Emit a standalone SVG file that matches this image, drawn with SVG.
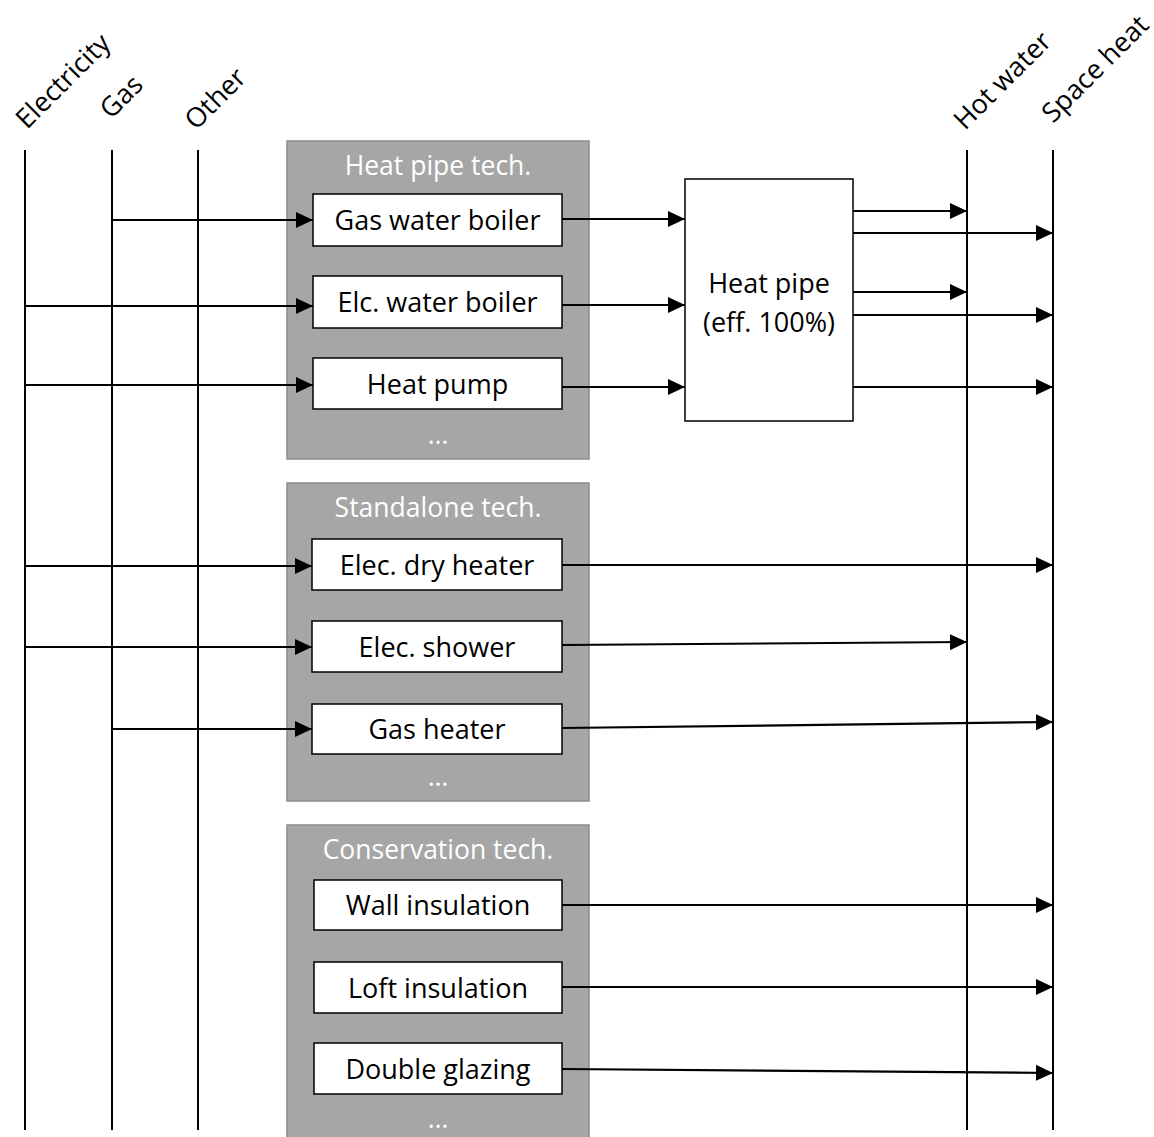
<svg xmlns="http://www.w3.org/2000/svg" width="1154" height="1137" viewBox="0 0 1154 1137">
<style>
.bus{stroke:#000;stroke-width:2;fill:none}
.grp{fill:#a6a6a6;stroke:#8c8c8c;stroke-width:1.5}
.box{fill:#fff;stroke:#000;stroke-width:1.5}
.t{font-family:"Open Sans","Noto Sans",sans-serif;font-size:27px;fill:#000;text-anchor:middle}
.gt{font-family:"Open Sans","Noto Sans",sans-serif;font-size:26.5px;fill:#fff;text-anchor:middle}
.hd{font-family:"Open Sans","Noto Sans",sans-serif;font-size:27px;fill:#000}
.c{stroke:#000;stroke-width:2.2;fill:none;marker-end:url(#ah)}
</style>
<defs>
<marker id="ah" markerWidth="18" markerHeight="18" refX="17" refY="9" orient="auto" markerUnits="userSpaceOnUse">
<path d="M0,1 L17,9 L0,17 Z" fill="#000"/>
</marker>
</defs>
<rect width="1154" height="1137" fill="#fff"/>
<g id="headers">
<text class="hd" transform="translate(27,130) rotate(-45)">Electricity</text>
<text class="hd" transform="translate(111,120) rotate(-45)">Gas</text>
<text class="hd" transform="translate(196,131) rotate(-45)">Other</text>
<text class="hd" transform="translate(965,131) rotate(-45)">Hot water</text>
<text class="hd" transform="translate(1053,124) rotate(-45)">Space heat</text>
</g>
<g id="buses">
<line class="bus" x1="25" y1="150" x2="25" y2="1130"/>
<line class="bus" x1="112" y1="150" x2="112" y2="1130"/>
<line class="bus" x1="198" y1="150" x2="198" y2="1130"/>
<line class="bus" x1="967" y1="150" x2="967" y2="1130"/>
<line class="bus" x1="1053" y1="150" x2="1053" y2="1130"/>
</g>
<g id="heat-pipe-tech">
<rect class="grp" x="287" y="141" width="302" height="318"/>
<text class="gt" x="438" y="175">Heat pipe tech.</text>
<text class="gt" x="438" y="444">…</text>
</g>
<g id="gas-water-boiler"><rect class="box" x="313" y="194" width="249" height="52"/><text class="t" x="437.5" y="230">Gas water boiler</text></g>
<g id="elc-water-boiler"><rect class="box" x="313" y="276" width="249" height="52"/><text class="t" x="437.5" y="312">Elc. water boiler</text></g>
<g id="heat-pump"><rect class="box" x="313" y="358" width="249" height="51"/><text class="t" x="437.5" y="394">Heat pump</text></g>
<g id="standalone-tech">
<rect class="grp" x="287" y="483" width="302" height="318"/>
<text class="gt" x="438" y="517">Standalone tech.</text>
<text class="gt" x="438" y="786">…</text>
</g>
<g id="elec-dry-heater"><rect class="box" x="312" y="539" width="250" height="51"/><text class="t" x="437" y="575">Elec. dry heater</text></g>
<g id="elec-shower"><rect class="box" x="312" y="621" width="250" height="51"/><text class="t" x="437" y="657">Elec. shower</text></g>
<g id="gas-heater"><rect class="box" x="312" y="704" width="250" height="50"/><text class="t" x="437" y="739">Gas heater</text></g>
<g id="conservation-tech">
<rect class="grp" x="287" y="825" width="302" height="320"/>
<text class="gt" x="438" y="859">Conservation tech.</text>
<text class="gt" x="438" y="1128">…</text>
</g>
<g id="wall-insulation"><rect class="box" x="314" y="880" width="248" height="50"/><text class="t" x="438" y="915">Wall insulation</text></g>
<g id="loft-insulation"><rect class="box" x="314" y="962" width="248" height="51"/><text class="t" x="438" y="998">Loft insulation</text></g>
<g id="double-glazing"><rect class="box" x="314" y="1043" width="248" height="51"/><text class="t" x="438" y="1079">Double glazing</text></g>
<g id="heat-pipe"><rect class="box" x="685" y="179" width="168" height="242"/>
<text class="t" x="769" y="293">Heat pipe</text>
<text class="t" x="769" y="332">(eff. 100%)</text></g>
<g id="connectors">
<line class="c" x1="112" y1="220" x2="313" y2="220"/>
<line class="c" x1="25" y1="306" x2="313" y2="306"/>
<line class="c" x1="25" y1="385" x2="313" y2="385"/>
<line class="c" x1="25" y1="566" x2="312" y2="566"/>
<line class="c" x1="25" y1="647" x2="312" y2="647"/>
<line class="c" x1="112" y1="729" x2="312" y2="729"/>
<line class="c" x1="562" y1="219" x2="685" y2="219"/>
<line class="c" x1="562" y1="305" x2="685" y2="305"/>
<line class="c" x1="562" y1="387" x2="685" y2="387"/>
<line class="c" x1="853" y1="211" x2="967" y2="211"/>
<line class="c" x1="853" y1="233" x2="1053" y2="233"/>
<line class="c" x1="853" y1="292" x2="967" y2="292"/>
<line class="c" x1="853" y1="315" x2="1053" y2="315"/>
<line class="c" x1="853" y1="387" x2="1053" y2="387"/>
<line class="c" x1="562" y1="565" x2="1053" y2="565"/>
<line class="c" x1="562" y1="645" x2="967" y2="642"/>
<line class="c" x1="562" y1="728" x2="1053" y2="722"/>
<line class="c" x1="562" y1="905" x2="1053" y2="905"/>
<line class="c" x1="562" y1="987" x2="1053" y2="987"/>
<line class="c" x1="562" y1="1069" x2="1053" y2="1073"/>
</g>
</svg>
